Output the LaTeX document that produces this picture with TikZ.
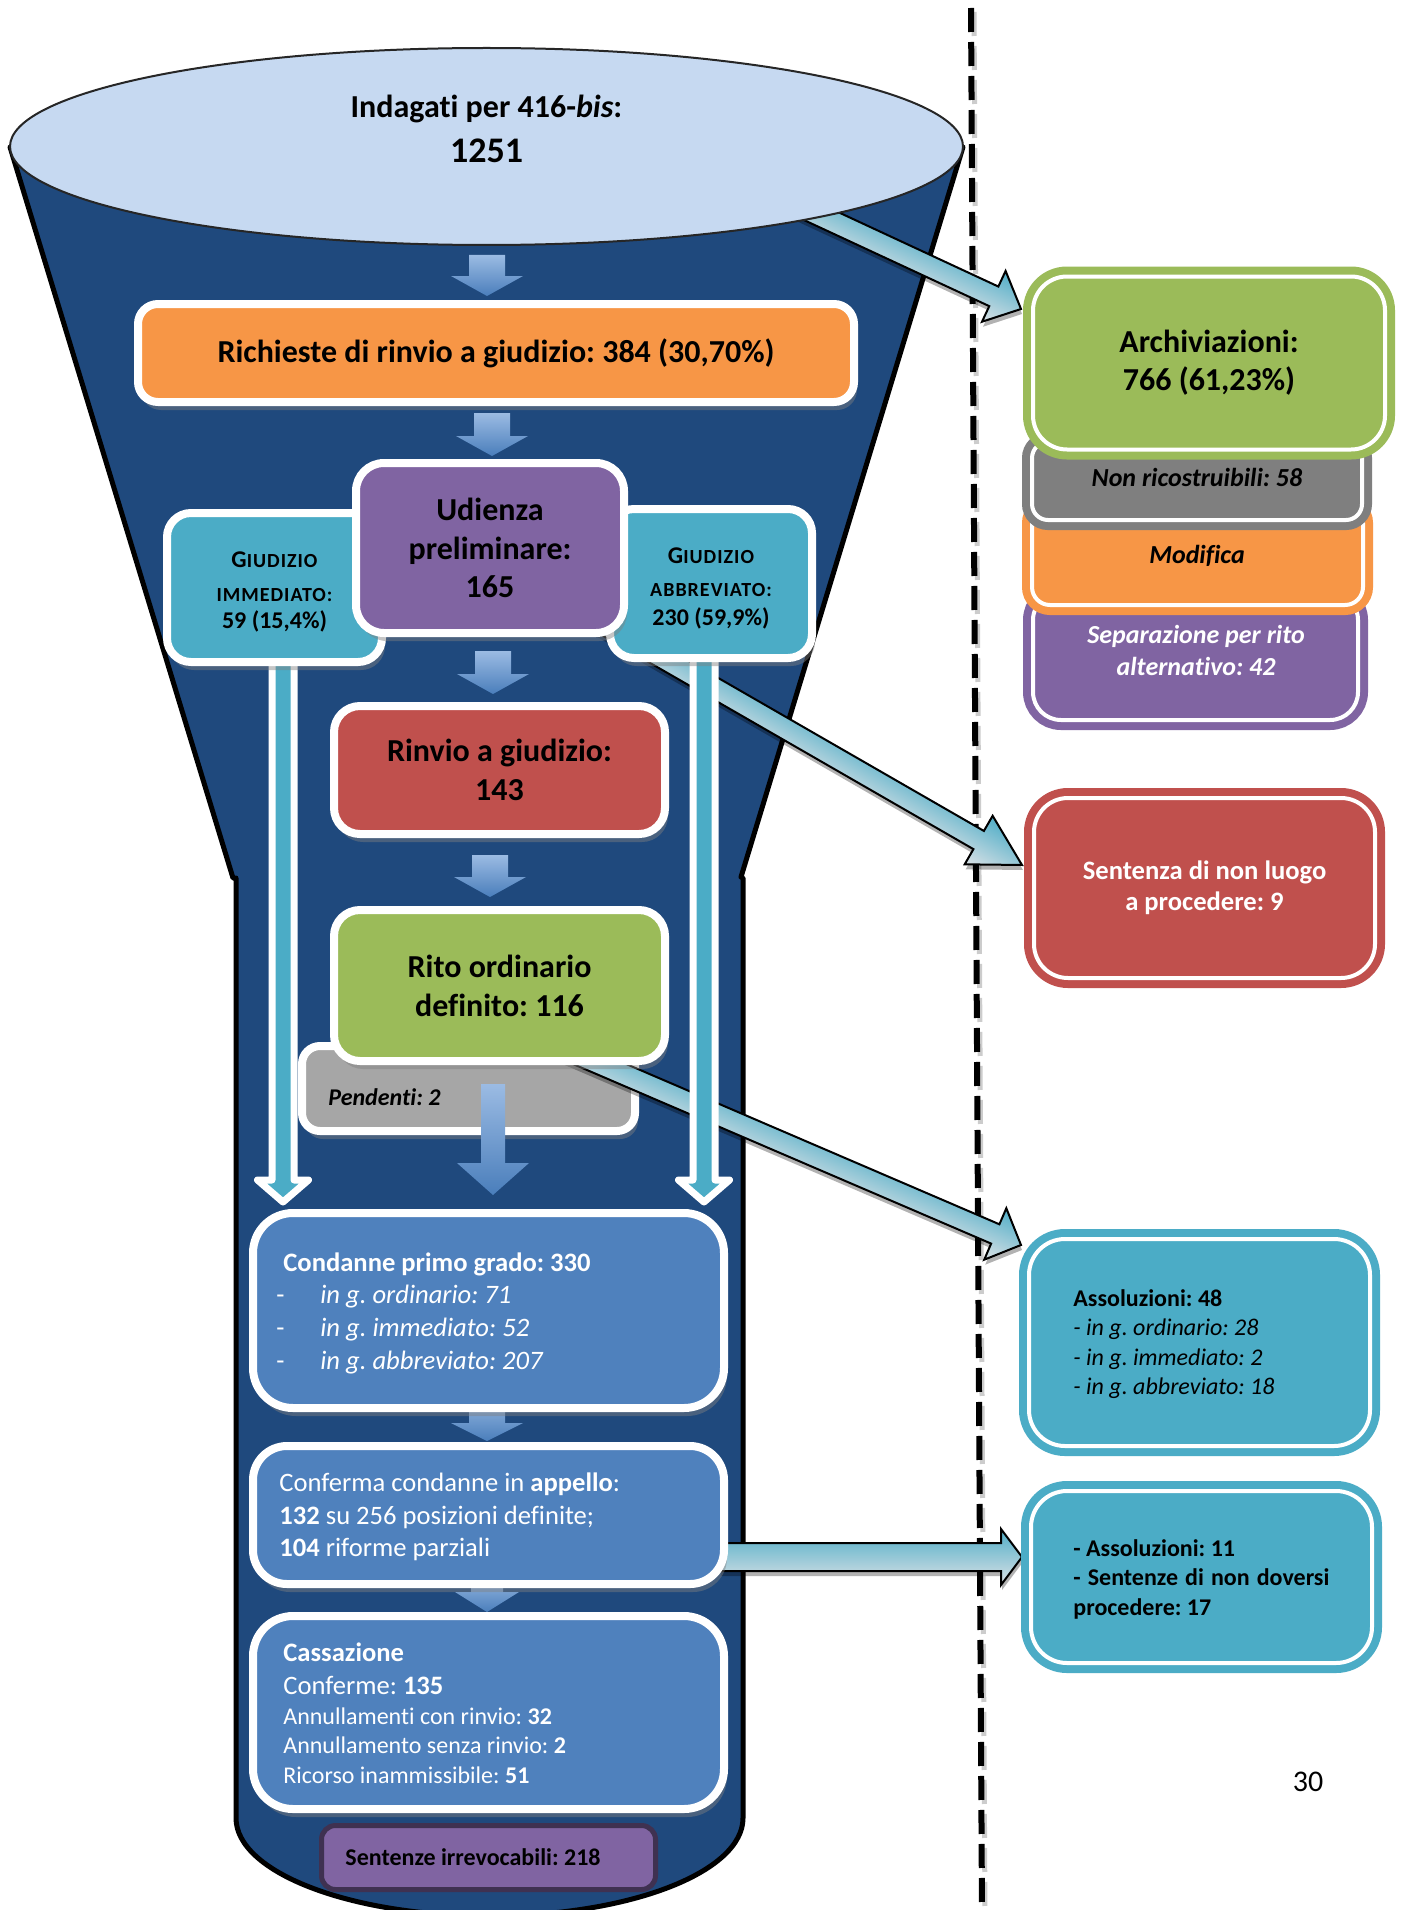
\documentclass[tikz,border=0pt]{standalone}
\usepackage{fontspec}
\setmainfont{Carlito}[Ligatures=NoCommon]
\frenchspacing
\usetikzlibrary{calc,shapes.geometric,shadows}

\definecolor{cOrange}{HTML}{F79646}
\definecolor{cPurple}{HTML}{8064A2}
\definecolor{cCyan}{HTML}{4BACC6}
\definecolor{cRed}{HTML}{C0504D}
\definecolor{cGreen}{HTML}{9BBB59}
\definecolor{cBlue}{HTML}{4F81BD}
\definecolor{cGrayL}{HTML}{A6A6A6}
\definecolor{cGrayD}{HTML}{7F7F7F}
\definecolor{cFunnel}{HTML}{1F497D}
\definecolor{cEllipse}{HTML}{C6D9F1}
\definecolor{cDarkPurple}{HTML}{3F3151}
\definecolor{arrTeal}{HTML}{4FADC7}
\definecolor{arrGray}{HTML}{DCE2E6}
\definecolor{arrBlueL}{HTML}{9BBBE3}
\definecolor{arrBlueD}{HTML}{4A7EBB}

\newcommand{\fsc}[1]{{\fontsize{10}{12}\selectfont\addfontfeature{LetterSpace=5}#1}}

\makeatletter
% #1 style, #2 from, #3 to, #4 shaft half-width, #5 head half-width, #6 head length, #7 canvas shift
\newcommand{\blockarrowgen}[7]{%
  \pgfmathanglebetweenpoints{\pgfpointanchor{#2}{center}}{\pgfpointanchor{#3}{center}}%
  \edef\ba@ang{\pgfmathresult}%
  \pgfpointdiff{\pgfpointanchor{#2}{center}}{\pgfpointanchor{#3}{center}}%
  \pgfgetlastxy{\ba@x}{\ba@y}%
  \pgfmathveclen{\ba@x}{\ba@y}%
  \edef\ba@len{\pgfmathresult}%
  \begin{scope}[transform canvas={shift={($(#2)+#7$)},rotate=\ba@ang}]
    \path[#1] (0pt,#4) -- ({\ba@len pt-#6},#4) -- ({\ba@len pt-#6},#5)
      -- ({\ba@len pt},0pt) -- ({\ba@len pt-#6},-#5) -- ({\ba@len pt-#6},-#4)
      -- (0pt,-#4) -- cycle;
  \end{scope}}
\makeatother
\newcommand{\blockarrow}[6]{\blockarrowgen{#1}{#2}{#3}{#4}{#5}{#6}{(0,0)}}
\newcommand{\shadedblockarrow}[5]{%
  \blockarrowgen{arrowshadow}{#1}{#2}{#3}{#4}{#5}{(1,5)}%
  \blockarrowgen{bigarrow}{#1}{#2}{#3}{#4}{#5}{(0,0)}}

\tikzset{
  mainbox/.style={draw=white, line width=4pt, inner sep=0pt, align=center,
    drop shadow={shadow xshift=1.5pt, shadow yshift=-4pt, opacity=0.45}},
  rightbox/.style={line width=4pt, double=white, double distance=2pt, inner sep=0pt, align=center},
  lbl/.style={inner sep=0pt},
  bigarrow/.style={draw=black, line width=1pt, line join=miter, top color=arrTeal, bottom color=arrGray},
  arrowshadow/.style={fill=black, fill opacity=0.3},
  smallarrow/.style={left color=arrBlueL, right color=arrBlueD},
  cyanarrow/.style={fill=cCyan, draw=white, line width=3.5pt, line join=round},
}

\begin{document}
\begin{tikzpicture}[x=0.5pt,y=-0.5pt]
\useasboundingbox (0,0) rectangle (1402,1910);
\fill[white] (0,0) rectangle (1402,1910);

% funnel
\filldraw[fill=cFunnel, draw=black, line width=2.5pt, line join=round]
  (10,147) -- (233,878) -- (236,878) -- (236,1818)
  arc[start angle=180, end angle=360, x radius=126.75pt, y radius=49pt]
  -- (743,878) -- (741,877) -- (963,147) -- cycle;

% dashed separator
\coordinate (dl1) at (971,8);
\coordinate (dl2) at (982,1912);
\draw[gray!40, line width=2.5pt, dash pattern=on 12pt off 5pt] ($(dl1)+(3,4)$) -- ($(dl2)+(3,4)$);
\draw[black, line width=3pt, dash pattern=on 12pt off 5pt] (dl1) -- (dl2);

% arrow to Archiviazioni (under the ellipse)
\coordinate (d1s) at (780,197);
\coordinate (d1e) at (1021,309);
\shadedblockarrow{d1s}{d1e}{5.4pt}{14pt}{15pt}

% top ellipse
\node[ellipse, draw=black!85, line width=1pt, fill=cEllipse, minimum width=476.5pt,
  minimum height=98.5pt, inner sep=0pt] (indagati) at (486.5,146.5) {};
\node[lbl, anchor=base, font=\fontsize{16}{19}\selectfont\bfseries] (indagatiA) at (486.5,118) {Indagati per 416-\textit{bis}:};
\node[lbl, anchor=base, font=\fontsize{18}{21}\selectfont\bfseries] (indagatiB) at (486.5,163) {1251};

% horizontal arrow from appello
\coordinate (d4s) at (720,1557);
\coordinate (d4e) at (1022,1557);
\shadedblockarrow{d4s}{d4e}{7pt}{14pt}{10.5pt}

% small blue down arrows
\coordinate (a1s) at (487,255);  \coordinate (a1e) at (487,296);
\coordinate (a2s) at (492,413);  \coordinate (a2e) at (492,456);
\coordinate (a3s) at (493,651);  \coordinate (a3e) at (493,694);
\coordinate (a4s) at (490,855);  \coordinate (a4e) at (490,897);
\coordinate (a6s) at (487,1395); \coordinate (a6e) at (487,1441);
\coordinate (a7s) at (487,1575); \coordinate (a7e) at (487,1612);
\blockarrow{smallarrow}{a1s}{a1e}{9pt}{18pt}{10pt}
\blockarrow{smallarrow}{a2s}{a2e}{9pt}{18pt}{10pt}
\blockarrow{smallarrow}{a3s}{a3e}{9pt}{18pt}{10pt}
\blockarrow{smallarrow}{a4s}{a4e}{9pt}{18pt}{10pt}
\blockarrow{smallarrow}{a6s}{a6e}{9pt}{18pt}{9pt}
\blockarrow{smallarrow}{a7s}{a7e}{8pt}{16pt}{10pt}

% Pendenti
\node[mainbox, fill=cGrayL, minimum width=166.5pt, minimum height=42.5pt, rounded corners=9pt] (pendenti) at (468.5,1088.5) {};
\node[lbl, anchor=base west, font=\fontsize{12}{14}\selectfont\bfseries\itshape] (pendentiT) at (328,1105) {Pendenti: 2};

% diagonal arrows
\coordinate (d3s) at (560,1047);
\coordinate (d3e) at (1021,1245);
\shadedblockarrow{d3s}{d3e}{5.25pt}{14pt}{14pt}
\coordinate (d2s) at (600,622);
\coordinate (d2e) at (1022,865);
\shadedblockarrow{d2s}{d2e}{5.25pt}{14pt}{25pt}

% long cyan arrows
\coordinate (v1s) at (283,640); \coordinate (v1e) at (283,1202);
\coordinate (v2s) at (704,640); \coordinate (v2e) at (704,1202);
\blockarrow{cyanarrow}{v1s}{v1e}{5.5pt}{12.75pt}{11pt}
\blockarrow{cyanarrow}{v2s}{v2e}{5.5pt}{12.75pt}{11pt}

% funnel boxes
\node[mainbox, fill=cOrange, minimum width=358pt, minimum height=49pt, rounded corners=10pt,
  font=\fontsize{16}{19}\selectfont\bfseries] (richieste) at (496,353) {Richieste di rinvio a giudizio: 384 (30,70\%)};

\node[mainbox, fill=cCyan, minimum width=107.5pt, minimum height=74.5pt, rounded corners=12pt] (gimm) at (274.5,587.5) {};
\node[lbl, anchor=base, font=\bfseries] (gimmA) at (274.5,567) {{\fontsize{12}{14}\selectfont G}\fsc{IUDIZIO}};
\node[lbl, anchor=base, font=\bfseries] (gimmB) at (274.5,601) {\fsc{IMMEDIATO:}};
\node[lbl, anchor=base, font=\fontsize{12}{14}\selectfont\bfseries] (gimmC) at (274.5,628.5) {59 (15,4\%)};

\node[mainbox, fill=cCyan, minimum width=101pt, minimum height=74.5pt, rounded corners=12pt] (gabb) at (711,583.5) {};
\node[lbl, anchor=base, font=\bfseries] (gabbA) at (711,563) {{\fontsize{12}{14}\selectfont G}\fsc{IUDIZIO}};
\node[lbl, anchor=base, font=\bfseries] (gabbB) at (711,596) {\fsc{ABBREVIATO:}};
\node[lbl, anchor=base, font=\fontsize{12}{14}\selectfont\bfseries] (gabbC) at (711,625.5) {230 (59,9\%)};

\node[mainbox, fill=cPurple, minimum width=134pt, minimum height=85pt, rounded corners=14pt,
  font=\fontsize{16}{19.25}\selectfont\bfseries] (udienza) at (490,548) {Udienza\\preliminare:\\165};

\node[mainbox, fill=cRed, minimum width=165.5pt, minimum height=64pt, rounded corners=13pt,
  font=\fontsize{16}{19.5}\selectfont\bfseries] (rinvio) at (499.5,770) {Rinvio a giudizio:\\143};

\node[mainbox, fill=cGreen, minimum width=165.5pt, minimum height=75.5pt, rounded corners=13pt,
  font=\fontsize{16}{19.5}\selectfont\bfseries] (rito) at (499.5,985.5) {Rito ordinario\\definito: 116};

\coordinate (a5s) at (493,1084); \coordinate (a5e) at (493,1195);
\blockarrow{smallarrow}{a5s}{a5e}{6pt}{18pt}{16pt}

% Condanne
\node[mainbox, fill=cBlue, minimum width=235.5pt, minimum height=97.5pt, rounded corners=20pt] (condanne) at (488.5,1310.5) {};
\node[lbl, anchor=base west, text=white, font=\fontsize{13.3}{16}\selectfont\bfseries] (condA) at (283,1271) {Condanne primo grado: 330};
\node[lbl, anchor=base west, text=white, font=\fontsize{13.3}{16}\selectfont] (condB0) at (276,1303.5) {-};
\node[lbl, anchor=base west, text=white, font=\fontsize{13.3}{16}\selectfont\itshape] (condB) at (320,1303.5) {in g. ordinario: 71};
\node[lbl, anchor=base west, text=white, font=\fontsize{13.3}{16}\selectfont] (condC0) at (276,1336.5) {-};
\node[lbl, anchor=base west, text=white, font=\fontsize{13.3}{16}\selectfont\itshape] (condC) at (320,1336.5) {in g. immediato: 52};
\node[lbl, anchor=base west, text=white, font=\fontsize{13.3}{16}\selectfont] (condD0) at (276,1369.5) {-};
\node[lbl, anchor=base west, text=white, font=\fontsize{13.3}{16}\selectfont\itshape] (condD) at (320,1369.5) {in g. abbreviato: 207};

% Conferma
\node[mainbox, fill=cBlue, minimum width=235.5pt, minimum height=69pt, rounded corners=17pt] (conferma) at (488.5,1515) {};
\node[lbl, anchor=base west, text=white, font=\fontsize{13.3}{16}\selectfont] (confA) at (279,1491) {Conferma condanne in \textbf{appello}:};
\node[lbl, anchor=base west, text=white, font=\fontsize{13.3}{16}\selectfont] (confB) at (279,1524) {\textbf{132} su 256 posizioni definite;};
\node[lbl, anchor=base west, text=white, font=\fontsize{13.3}{16}\selectfont] (confC) at (279,1556) {\textbf{104} riforme parziali};

% Cassazione
\node[mainbox, fill=cBlue, minimum width=235.5pt, minimum height=96.5pt, rounded corners=20pt] (cassazione) at (488.5,1712.5) {};
\node[lbl, anchor=base west, text=white, font=\fontsize{13.3}{16}\selectfont\bfseries] (cassA) at (283,1661) {Cassazione};
\node[lbl, anchor=base west, text=white, font=\fontsize{13.3}{16}\selectfont] (cassB) at (283,1694) {Conferme: \textbf{135}};
\node[lbl, anchor=base west, text=white, font=\fontsize{12}{14}\selectfont] (cassC) at (283,1724) {Annullamenti con rinvio: \textbf{32}};
\node[lbl, anchor=base west, text=white, font=\fontsize{12}{14}\selectfont] (cassD) at (283,1753.5) {Annullamento senza rinvio: \textbf{2}};
\node[lbl, anchor=base west, text=white, font=\fontsize{12}{14}\selectfont] (cassE) at (283,1783) {Ricorso inammissibile: \textbf{51}};

% Sentenze irrevocabili
\node[draw=cDarkPurple, line width=2.5pt, fill=cPurple, rounded corners=7pt, minimum width=167pt,
  minimum height=32pt, inner sep=0pt] (irrev) at (488.5,1857.5) {};
\node[lbl, anchor=base west, font=\fontsize{12}{14}\selectfont\bfseries] (irrevT) at (345,1865.5) {Sentenze irrevocabili: 218};

% right column boxes
\node[rightbox, fill=cPurple, draw=cPurple, minimum width=162.5pt, minimum height=64pt, rounded corners=14pt] (separaz) at (1195.5,656) {};
\node[lbl, anchor=base, text=white, font=\fontsize{13}{16}\selectfont\bfseries\itshape] (separazA) at (1196,643.5) {Separazione per rito};
\node[lbl, anchor=base, text=white, font=\fontsize{13}{16}\selectfont\bfseries\itshape] (separazB) at (1196,675.5) {alternativo: 42};

\node[rightbox, fill=cOrange, draw=cOrange, minimum width=165.5pt, minimum height=50pt, rounded corners=9pt] (modifica) at (1197.5,555) {};
\node[lbl, anchor=base, font=\fontsize{13}{16}\selectfont\bfseries\itshape] (modificaT) at (1197,563.5) {Modifica};

\node[rightbox, fill=cGrayD, draw=cGrayD, minimum width=165pt, minimum height=39pt, rounded corners=8pt] (nonric) at (1197,481) {};
\node[lbl, anchor=base, font=\fontsize{13}{16}\selectfont\bfseries\itshape] (nonricT) at (1197,486.5) {Non ricostruibili: 58};

\node[rightbox, fill=cGreen, draw=cGreen, minimum width=176pt, minimum height=86.5pt, rounded corners=17pt,
  font=\fontsize{16}{19}\selectfont\bfseries] (archiv) at (1209,363) {Archiviazioni:\\766 (61,23\%)};

\node[rightbox, fill=cRed, draw=cRed, minimum width=170.5pt, minimum height=90pt, rounded corners=17pt,
  text=white, font=\fontsize{13.3}{15.5}\selectfont\bfseries] (nonluogo) at (1204.5,888) {Sentenza di non luogo\\a procedere: 9};

\node[rightbox, fill=cCyan, draw=cCyan, minimum width=170.5pt, minimum height=103.5pt, rounded corners=18pt] (assol48) at (1199.5,1342.5) {};
\node[lbl, anchor=base west, font=\fontsize{12}{14}\selectfont\bfseries] (assolA) at (1073,1306.5) {Assoluzioni: 48};
\node[lbl, anchor=base west, font=\fontsize{12}{14}\selectfont\itshape] (assolB) at (1073,1335.5) {- in g. ordinario: 28};
\node[lbl, anchor=base west, font=\fontsize{12}{14}\selectfont\itshape] (assolC) at (1073,1365.5) {- in g. immediato: 2};
\node[lbl, anchor=base west, font=\fontsize{12}{14}\selectfont\itshape] (assolD) at (1073,1394.5) {- in g. abbreviato: 18};

\node[rightbox, fill=cCyan, draw=cCyan, minimum width=170.5pt, minimum height=86pt, rounded corners=18pt] (assol11) at (1201.5,1577) {};
\node[lbl, anchor=base west, font=\fontsize{12}{14}\selectfont\bfseries] (appA) at (1073,1556.5) {- Assoluzioni: 11};
\node[lbl, anchor=base west, font=\fontsize{12}{14}\selectfont\bfseries] (appB) at (1073,1585) {\makebox[128pt][s]{- Sentenze di non doversi}};
\node[lbl, anchor=base west, font=\fontsize{12}{14}\selectfont\bfseries] (appC) at (1073,1615.5) {procedere: 17};

% page number
\node[lbl, anchor=base, font=\fontsize{15}{18}\selectfont] (pagenum) at (1308,1791) {30};
\end{tikzpicture}
\end{document}
